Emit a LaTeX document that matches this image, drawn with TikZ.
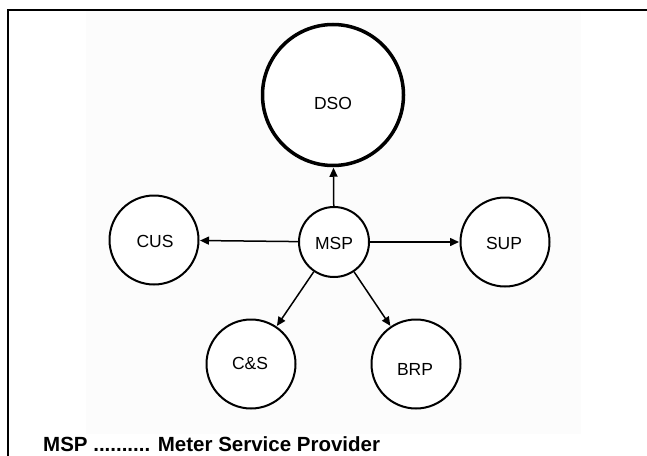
\documentclass[tikz,border=0pt]{standalone}
\usepackage{fontspec}
\setmainfont{Liberation Sans}
\usetikzlibrary{arrows.meta}
\definecolor{bggray}{HTML}{FCFCFC}
\begin{document}
\begin{tikzpicture}[x=1pt,y=-1pt,
  circ/.style={circle, draw=black, line width=2pt, inner sep=0pt, fill=white},
  lbl/.style={font=\fontsize{17.5}{19}\selectfont, inner sep=0pt},
  conn/.style={line width=1.5pt, -{Triangle[length=9pt,width=8pt]}, shorten >=0.5pt},
  caption/.style={font=\fontsize{20.5}{22}\selectfont\bfseries, inner sep=0pt, anchor=base west}
]
\useasboundingbox (0,0) rectangle (647,455);
\clip (0,0) rectangle (647,455);
\fill[white] (0,0) rectangle (647,455);
\fill[bggray] (86,11) rectangle (581,434);
\draw[line width=2pt] (8,460) -- (8,10) -- (650,10);

\node[circ, line width=3.5pt, minimum size=141pt] (dso) at (333,95) {};
\node[circ, minimum size=70pt] (msp) at (334,242) {};
\node[circ, minimum size=89pt] (cus) at (154,240) {};
\node[circ, minimum size=89pt] (sup) at (505,242) {};
\node[circ, minimum size=89pt] (cs) at (251,364) {};
\node[circ, minimum size=89pt] (brp) at (416,364) {};

\node[lbl] (dsot) at (333,103) {DSO};
\node[lbl] (mspt) at (334,243) {MSP};
\node[lbl] (cust) at (155,241) {CUS};
\node[lbl] (supt) at (504,243) {SUP};
\node[lbl] (cst) at (250,363) {C\&S};
\node[lbl] (brpt) at (415,369) {BRP};

\draw[conn] (msp) -- (dso);
\draw[conn] (msp) -- (cus);
\draw[conn] (msp) -- (sup);
\draw[conn] (msp) -- (cs);
\draw[conn] (msp) -- (brp);

\node[caption] (cap) at (43,451) {MSP .......... Meter Service Provider};
\end{tikzpicture}
\end{document}
